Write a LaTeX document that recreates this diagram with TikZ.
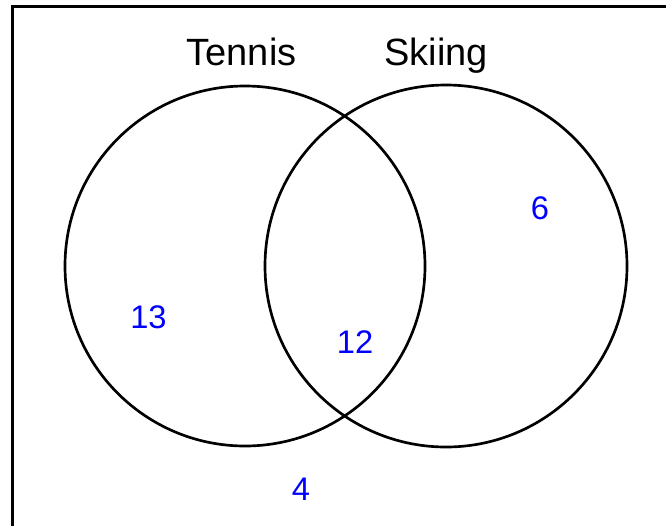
\documentclass[tikz,border=0pt]{standalone}
\usepackage{fontspec}
\setmainfont{Liberation Sans}
\begin{document}
\begin{tikzpicture}[x=0.75pt,y=-0.75pt,
  setcircle/.style={draw=black,line width=2pt},
  setlabel/.style={font=\fontsize{28.5pt}{32pt}\selectfont,anchor=base,inner sep=0pt},
  count/.style={font=\fontsize{24.5pt}{28pt}\selectfont,text=blue,anchor=base,inner sep=0pt}]
\useasboundingbox (0,0) rectangle (666,525);
\clip (0,0) rectangle (666,525);
\draw[line width=2.3pt] (12.5,6.5) rectangle (720,580);
\node[setcircle,circle,minimum size=360*0.75pt,inner sep=0pt] (tennis) at (245,266) {};
\node[setcircle,circle,minimum size=362*0.75pt,inner sep=0pt] (skiing) at (446,266) {};
\node[setlabel] (tl) at (241.5,65.5) {Tennis};
\node[setlabel] (sl) at (436,65.5) {Skiing};
\node[count] (n13) at (148.5,328) {13};
\node[count] (n12) at (355,353) {12};
\node[count] (n6) at (540,219.5) {6};
\node[count] (n4) at (301,500) {4};
\end{tikzpicture}
\end{document}
